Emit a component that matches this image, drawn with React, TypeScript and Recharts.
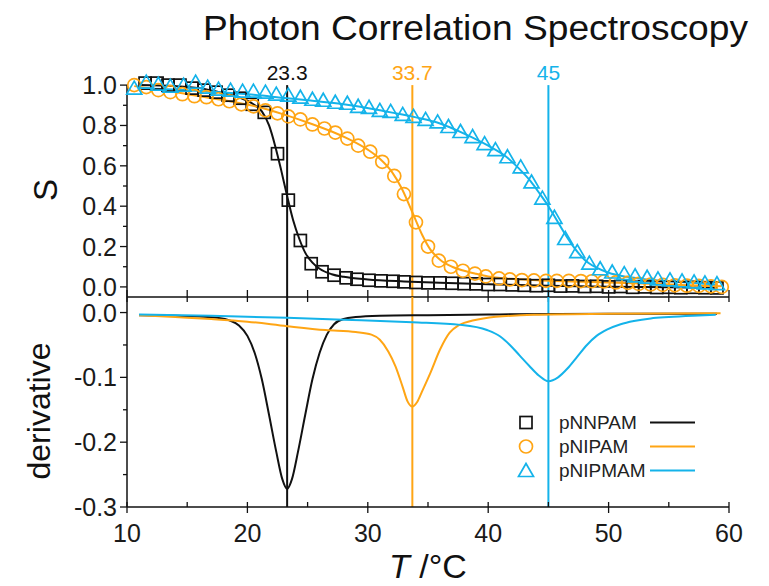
import React from "react";
import {
  ComposedChart,
  XAxis,
  YAxis,
  Line,
  Scatter,
  ReferenceLine,
  ReferenceDot,
  Legend,
} from "recharts";

const BLACK = "#111111";
const ORANGE = "#FFA514";
const BLUE = "#14B3EA";

// measured points (S vs T)
const NNPAM_T = [11.5, 12.5, 13.4, 14.4, 15.4, 16.4, 17.4, 18.4, 19.4, 20.4, 21.4, 22.5, 23.4, 24.4, 25.3, 26.2, 27.2, 28.2, 29.1, 30.1, 31.1, 32.1, 33.0, 34.0, 35.0, 36.0, 37.0, 38.0, 39.0, 40.0, 41.0, 42.0, 43.0, 44.0, 45.0, 46.0, 47.0, 48.0, 49.0, 50.0, 51.0, 52.0, 53.0, 54.0, 55.0, 56.0, 57.0, 58.0, 59.0];
const NNPAM_S = [1.01, 1.01, 1.0, 1.0, 0.985, 0.975, 0.965, 0.95, 0.935, 0.905, 0.865, 0.66, 0.43, 0.23, 0.115, 0.075, 0.058, 0.045, 0.038, 0.033, 0.03, 0.028, 0.025, 0.022, 0.02, 0.02, 0.018, 0.016, 0.015, 0.012, 0.012, 0.01, 0.008, 0.006, 0.008, 0.004, 0.005, 0.002, 0.003, 0.0, 0.002, -0.002, 0.0, -0.003, -0.002, -0.004, -0.002, -0.004, -0.005];

const NIPAM_T = [10.6, 11.6, 12.6, 13.6, 14.6, 15.6, 16.6, 17.6, 18.5, 19.5, 20.5, 21.5, 22.5, 23.4, 24.4, 25.4, 26.4, 27.3, 28.3, 29.2, 30.2, 31.2, 32.2, 33.0, 34.0, 35.0, 35.9, 36.9, 37.9, 38.9, 39.8, 40.9, 41.8, 42.8, 43.8, 44.8, 45.7, 46.7, 47.7, 48.6, 49.6, 50.6, 51.6, 52.5, 53.5, 54.5, 55.5, 56.5, 57.5, 58.5, 59.4];
const NIPAM_S = [1.0, 0.99, 0.975, 0.965, 0.955, 0.945, 0.94, 0.93, 0.92, 0.905, 0.895, 0.875, 0.86, 0.845, 0.83, 0.805, 0.785, 0.765, 0.735, 0.7, 0.67, 0.62, 0.55, 0.46, 0.32, 0.2, 0.13, 0.1, 0.08, 0.066, 0.052, 0.042, 0.037, 0.034, 0.032, 0.03, 0.03, 0.03, 0.029, 0.028, 0.027, 0.022, 0.02, 0.015, 0.012, 0.01, 0.008, 0.006, 0.005, 0.003, 0.0];

const NIPMAM_T = [10.6, 11.6, 12.6, 13.6, 14.7, 15.7, 16.7, 17.6, 18.6, 19.6, 20.5, 21.5, 22.4, 23.4, 24.4, 25.4, 26.3, 27.3, 28.3, 29.2, 30.1, 31.0, 31.9, 32.9, 33.8, 34.8, 35.8, 36.7, 37.7, 38.7, 39.7, 40.6, 41.6, 42.7, 43.6, 44.5, 45.5, 46.4, 47.4, 48.4, 49.3, 50.3, 51.3, 52.2, 53.2, 54.1, 55.1, 56.1, 57.1, 58.0, 59.0];
const NIPMAM_S = [0.985, 1.015, 1.005, 0.995, 1.0, 1.015, 0.99, 0.98, 0.975, 0.97, 0.97, 0.965, 0.955, 0.95, 0.94, 0.93, 0.925, 0.915, 0.91, 0.895, 0.89, 0.875, 0.87, 0.855, 0.845, 0.83, 0.818, 0.795, 0.77, 0.745, 0.71, 0.68, 0.645, 0.595, 0.52, 0.44, 0.345, 0.24, 0.175, 0.118, 0.09, 0.074, 0.066, 0.055, 0.048, 0.04, 0.035, 0.03, 0.025, 0.02, 0.016];

// fitted curves
const NNPAM_FIT_T = [11, 14, 16, 18, 19.5, 20.5, 21.2, 21.8, 22.3, 22.8, 23.3, 23.8, 24.3, 24.8, 25.4, 26, 27, 28, 30, 33, 36, 40, 45, 50, 55, 59];
const NNPAM_FIT_S = [1.0, 0.995, 0.985, 0.96, 0.935, 0.905, 0.87, 0.8, 0.7, 0.58, 0.45, 0.33, 0.24, 0.17, 0.12, 0.09, 0.063, 0.05, 0.037, 0.027, 0.02, 0.013, 0.006, 0.001, -0.002, -0.004];

const NIPAM_FIT_T = [10.6, 13, 15, 17, 19, 21, 23, 25, 27, 28.5, 30, 31, 32, 32.8, 33.7, 34.5, 35.2, 36, 37, 38, 39, 40, 42, 45, 48, 52, 56, 59.4];
const NIPAM_FIT_S = [0.995, 0.975, 0.955, 0.935, 0.915, 0.89, 0.855, 0.815, 0.77, 0.73, 0.68, 0.635, 0.57, 0.49, 0.37, 0.26, 0.185, 0.135, 0.1, 0.08, 0.065, 0.052, 0.04, 0.03, 0.025, 0.018, 0.01, 0.003];

const NIPMAM_FIT_T = [11, 15, 20, 23.3, 25, 28, 31, 34, 36, 38, 40, 41.5, 42.5, 43.5, 44.3, 45, 45.7, 46.4, 47.2, 48, 49, 50, 51.5, 53, 55, 57, 59];
const NIPMAM_FIT_S = [0.985, 0.975, 0.955, 0.935, 0.925, 0.905, 0.875, 0.84, 0.81, 0.76, 0.7, 0.645, 0.59, 0.525, 0.46, 0.4, 0.33, 0.26, 0.19, 0.135, 0.095, 0.07, 0.05, 0.038, 0.028, 0.02, 0.012];

// derivatives
const NNPAM_DER_T = [11, 14, 16, 17.5, 18.5, 19.3, 20.0, 20.6, 21.2, 21.8, 22.4, 22.9, 23.3, 23.7, 24.2, 24.8, 25.4, 26.0, 26.6, 27.2, 28, 29, 31, 35, 40, 50, 59];
const NNPAM_DER = [-0.004, -0.005, -0.006, -0.008, -0.012, -0.02, -0.036, -0.062, -0.103, -0.158, -0.215, -0.257, -0.272, -0.257, -0.215, -0.158, -0.103, -0.062, -0.034, -0.018, -0.01, -0.007, -0.005, -0.004, -0.003, -0.002, -0.002];

const NIPAM_DER_T = [11, 14, 17, 20, 23.3, 26.5, 29, 30.3, 31, 31.7, 32.3, 32.9, 33.3, 33.7, 34.1, 34.5, 35.2, 36.0, 36.8, 37.5, 38.0, 39.6, 43.8, 50, 59.3];
const NIPAM_DER = [-0.004, -0.007, -0.01, -0.014, -0.021, -0.027, -0.03, -0.034, -0.042, -0.06, -0.083, -0.115, -0.137, -0.145, -0.138, -0.122, -0.093, -0.057, -0.031, -0.02, -0.016, -0.009, -0.0035, -0.002, -0.001];

const NIPMAM_DER_T = [11, 17, 23.3, 28, 33.7, 37.7, 39.9, 41.0, 41.8, 42.6, 43.4, 44.2, 45.0, 45.8, 46.6, 47.4, 48.2, 49.0, 49.9, 51, 52.1, 53.5, 55, 57, 58.9];
const NIPMAM_DER = [-0.003, -0.005, -0.008, -0.011, -0.015, -0.019, -0.027, -0.037, -0.05, -0.066, -0.082, -0.097, -0.106, -0.1, -0.086, -0.068, -0.05, -0.036, -0.026, -0.018, -0.013, -0.009, -0.007, -0.005, -0.0035];

const TRANSITIONS = [23.3, 33.7, 45];
const TRANSITION_LABELS = ["23.3", "33.7", "45"];
const SERIES_NAMES = ["pNNPAM", "pNIPAM", "pNIPMAM"];
const COLORS = [BLACK, ORANGE, BLUE];

const X_TICKS = [10, 15, 20, 25, 30, 35, 40, 45, 50, 55, 60];
const TOP_Y_MAJOR = [0, 0.2, 0.4, 0.6, 0.8, 1.0];
const TOP_Y_MINOR = [0.1, 0.3, 0.5, 0.7, 0.9];
const BOT_Y_MAJOR = [-0.3, -0.2, -0.1, 0];
const BOT_Y_MINOR = [-0.25, -0.15, -0.05];

const zip = (t: number[], v: number[]) => t.map((x, i) => ({ t: x, s: v[i] }));

const FONT = "'Liberation Sans', Arial, sans-serif";

const Square = (p: any) => (
  <rect x={p.cx - 6} y={p.cy - 6} width={12} height={12} fill="none" stroke={BLACK} strokeWidth={1.7} />
);
const Ring = (p: any) => (
  <circle cx={p.cx} cy={p.cy} r={6.5} fill="none" stroke={ORANGE} strokeWidth={1.7} />
);
const Tri = (p: any) => (
  <polygon
    points={`${p.cx},${p.cy - 7} ${p.cx - 7.5},${p.cy + 6} ${p.cx + 7.5},${p.cy + 6}`}
    fill="none"
    stroke={BLUE}
    strokeWidth={1.7}
  />
);
const MARKERS = [Square, Ring, Tri];

const makeYTick = (majors: number[]) => (p: any) => {
  const major = majors.includes(p.payload.value);
  return (
    <g>
      <line x1={p.x - (major ? 7 : 4)} x2={p.x} y1={p.y} y2={p.y} stroke={BLACK} strokeWidth={1.3} />
      {major && (
        <text x={p.x - 10} y={p.y} dy="0.36em" textAnchor="end" fontSize={25} fill="#1a1a1a">
          {p.payload.value.toFixed(1)}
        </text>
      )}
    </g>
  );
};

const BoundaryTick = (p: any) => (
  <line x1={p.x} x2={p.x} y1={p.y - 7} y2={p.y + 5} stroke={BLACK} strokeWidth={1.3} />
);

const BottomTick = (p: any) => {
  const major = p.payload.value % 10 === 0;
  return (
    <g>
      <line x1={p.x} x2={p.x} y1={p.y - 5} y2={p.y + (major ? 6 : 0)} stroke={BLACK} strokeWidth={1.3} />
      {major && (
        <text x={p.x} y={p.y + 17} dy="0.71em" textAnchor="middle" fontSize={25} fill="#1a1a1a">
          {p.payload.value}
        </text>
      )}
    </g>
  );
};

const LegendBox = () => (
  <svg width={210} height={75}>
    {SERIES_NAMES.map((name, i) => {
      const y = 12.5 + i * 24;
      const M = MARKERS[i];
      return (
        <g key={name}>
          <M cx={21} cy={y} />
          <text x={54} y={y} dy="0.36em" fontSize={19} fill="#222" fontFamily={FONT}>
            {name}
          </text>
          <line x1={145} x2={190} y1={y} y2={y} stroke={COLORS[i]} strokeWidth={2} />
        </g>
      );
    })}
  </svg>
);

export default function App() {
  const pts = [zip(NNPAM_T, NNPAM_S), zip(NIPAM_T, NIPAM_S), zip(NIPMAM_T, NIPMAM_S)];
  const fits = [
    zip(NNPAM_FIT_T, NNPAM_FIT_S),
    zip(NIPAM_FIT_T, NIPAM_FIT_S),
    zip(NIPMAM_FIT_T, NIPMAM_FIT_S),
  ];
  const ders = [
    zip(NNPAM_DER_T, NNPAM_DER),
    zip(NIPAM_DER_T, NIPAM_DER),
    zip(NIPMAM_DER_T, NIPMAM_DER),
  ];

  return (
    <div style={{ position: "relative", width: 769, height: 586, margin: -8, fontFamily: FONT, background: "#fff" }}>
      <svg style={{ position: "absolute", left: 0, top: 0 }} width={769} height={60}>
        <text x={203} y={40} fontSize={35} fill="#111" textLength={545} lengthAdjust="spacingAndGlyphs" fontFamily={FONT}>
          Photon Correlation Spectroscopy
        </text>
      </svg>

      {/* upper panel: S */}
      <div style={{ position: "absolute", left: 0, top: 0 }}>
        <ComposedChart width={769} height={310} margin={{ top: 73, right: 40, bottom: 0, left: 0 }}>
          <XAxis
            dataKey="t"
            type="number"
            domain={[10, 60]}
            ticks={X_TICKS}
            interval={0}
            height={13}
            tickSize={0}
            tickMargin={0}
            tickLine={false}
            axisLine={{ stroke: BLACK, strokeWidth: 1.5 }}
            tick={BoundaryTick}
          />
          <YAxis
            type="number"
            domain={[-0.05, 1.06]}
            ticks={[...TOP_Y_MAJOR, ...TOP_Y_MINOR]}
            interval={0}
            width={127}
            tickSize={0}
            tickMargin={0}
            tickLine={false}
            axisLine={false}
            tick={makeYTick(TOP_Y_MAJOR)}
            label={() => (
              <text
                x={57}
                y={190}
                transform="rotate(-90 57 190)"
                textAnchor="middle"
                fontSize={33}
                fill="#111"
              >
                S
              </text>
            )}
          />
          <ReferenceLine segment={[{ x: 10, y: -0.05 }, { x: 10, y: 1 }]} stroke={BLACK} strokeWidth={1.5} />
          {TRANSITIONS.map((t, i) => (
            <ReferenceLine
              key={"v" + t}
              segment={[{ x: t, y: -0.05 }, { x: t, y: 1 }]}
              stroke={COLORS[i]}
              strokeWidth={2}
            />
          ))}
          {TRANSITIONS.map((t, i) => (
            <ReferenceDot
              key={"l" + t}
              x={t}
              y={1}
              r={0}
              fill="none"
              stroke="none"
              label={{ value: TRANSITION_LABELS[i], position: "top", fill: COLORS[i], fontSize: 21, offset: 5 }}
            />
          ))}
          {pts.map((d, i) => (
            <Scatter
              key={"p" + i}
              data={d}
              dataKey="s"
              shape={MARKERS[i]}
              isAnimationActive={false}
            />
          ))}
          {fits.map((d, i) => (
            <Line
              key={"f" + i}
              data={d}
              dataKey="s"
              type="monotone"
              dot={false}
              stroke={COLORS[i]}
              strokeWidth={2}
              isAnimationActive={false}
            />
          ))}
        </ComposedChart>
      </div>

      {/* lower panel: derivative */}
      <div style={{ position: "absolute", left: 0, top: 290 }}>
        <ComposedChart width={769} height={296} margin={{ top: 7, right: 40, bottom: 0, left: 0 }}>
          <XAxis
            dataKey="t"
            type="number"
            domain={[10, 60]}
            ticks={X_TICKS}
            interval={0}
            height={79}
            tickSize={0}
            tickMargin={0}
            tickLine={false}
            axisLine={{ stroke: BLACK, strokeWidth: 1.5 }}
            tick={BottomTick}
            label={() => (
              <text x={428} y={288} textAnchor="middle" fontSize={34} fill="#111">
                <tspan fontStyle="italic">T</tspan>
                <tspan> /°C</tspan>
              </text>
            )}
          />
          <YAxis
            type="number"
            domain={[-0.3, 0.024]}
            ticks={[...BOT_Y_MAJOR, ...BOT_Y_MINOR]}
            interval={0}
            width={127}
            tickSize={0}
            tickMargin={0}
            tickLine={false}
            axisLine={{ stroke: BLACK, strokeWidth: 1.5 }}
            tick={makeYTick(BOT_Y_MAJOR)}
            label={() => (
              <text
                x={50}
                y={121}
                transform="rotate(-90 50 121)"
                textAnchor="middle"
                fontSize={32}
                fill="#111"
              >
                derivative
              </text>
            )}
          />
          {TRANSITIONS.map((t, i) => (
            <ReferenceLine key={"b" + t} x={t} stroke={COLORS[i]} strokeWidth={2} />
          ))}
          {ders.map((d, i) => (
            <Line
              key={"d" + i}
              data={d}
              dataKey="s"
              type="monotone"
              dot={false}
              stroke={COLORS[i]}
              strokeWidth={2}
              isAnimationActive={false}
            />
          ))}
          <Legend
            layout="horizontal"
            verticalAlign="middle"
            align="center"
            content={LegendBox}
            wrapperStyle={{ left: 505, top: 120, width: 210, height: 75 }}
          />
        </ComposedChart>
      </div>
    </div>
  );
}
